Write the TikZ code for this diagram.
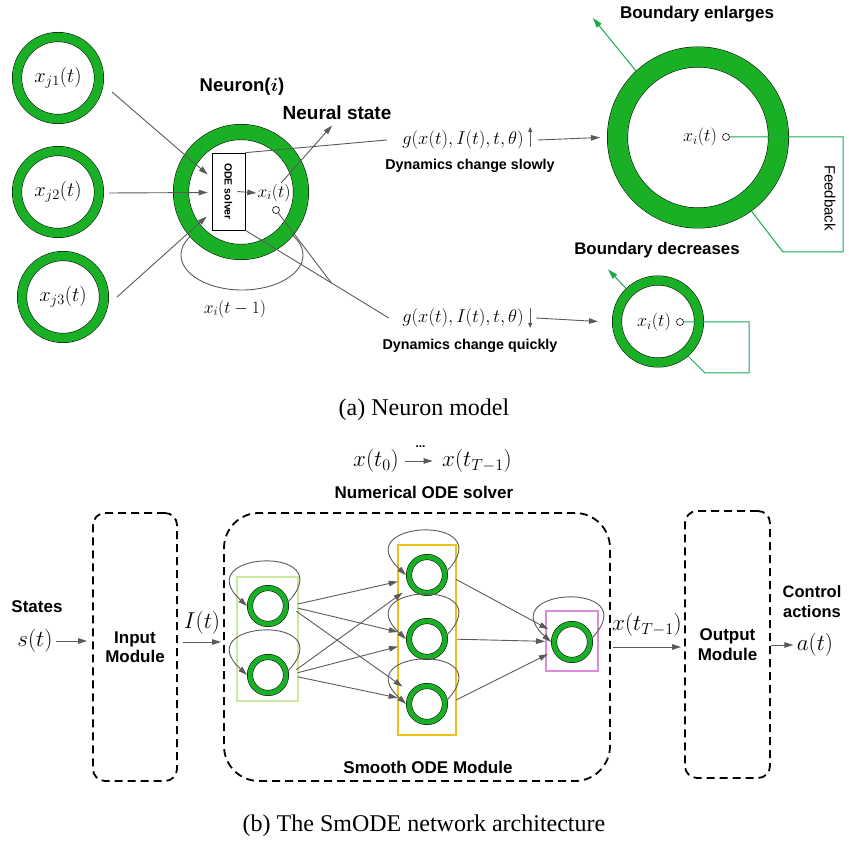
\RequirePackage{fix-cm}
\documentclass[tikz,border=0pt]{standalone}
\usepackage{amsmath}
\usepackage{fontspec}
\setmainfont{Liberation Serif}
\setsansfont{Liberation Sans}
\usetikzlibrary{arrows.meta, calc, positioning}

\definecolor{ringgreen}{RGB}{26,176,38}
\definecolor{fbgreen}{RGB}{24,170,80}
\definecolor{wiregray}{RGB}{90,90,90}
\definecolor{layerone}{RGB}{202,232,160}
\definecolor{layertwo}{RGB}{234,194,28}
\definecolor{layerthree}{RGB}{220,140,220}

\newcommand{\fsz}[2]{\fontsize{#1}{#2}\selectfont}

\begin{document}
\begin{tikzpicture}[x = 1pt, y = -1pt,
    wire/.style = { draw = wiregray, line width = 0.9pt },
    arr/.style = { wire, -{Triangle[length = 9pt, width = 5.5pt]} },
    small arr/.style = { wire, -{Triangle[length = 5pt, width = 4pt]} },
    fb/.style = { draw = fbgreen, line width = 1pt },
    fb arr/.style = { fb, -{Triangle[length = 10pt, width = 6pt]} },
    ring/.style = { circle, inner sep = 0pt, fill = white, draw = black, line width = 0.5pt,
                    double = ringgreen, double distance = #1, outer sep = 0.5*#1 + 0.5pt },
    dot/.style = { circle, draw = black, fill = white, line width = 0.6pt, inner sep = 0pt, minimum size = 7pt },
    lab/.style = { font = \sffamily\bfseries\fsz{17}{19.5}, align = center },
    module/.style = { lab, draw = black, line width = 1.8pt, dash pattern = on 8pt off 5pt },
    mth/.style = { font = \fsz{#1}{#1} }
  ]
  \useasboundingbox (0,0) rectangle (849,842);

  \draw[wire] (242,255) ellipse [x radius = 61pt, y radius = 35pt];

  \node[ring = 9pt, minimum size = 82pt, mth = 20.5] (j1) at (58,78) {$x_{j1}(t)$};
  \node[ring = 9pt, minimum size = 82pt, mth = 20.5] (j2) at (58,192) {$x_{j2}(t)$};
  \node[ring = 9pt, minimum size = 82pt, mth = 20.5] (j3) at (63,297) {$x_{j3}(t)$};

  \node[ring = 15pt, minimum size = 120pt] (ni) at (241,192) {};
  \node[draw, fill = white, line width = 0.7pt, inner sep = 0pt, minimum width = 33pt, minimum height = 77pt] (ode) at (228.5,191.5) {};
  \node[rotate = -90, font = \sffamily\bfseries\fsz{10.5}{12}] at (ode) {ODE solver};
  \node[mth = 17.5, inner sep = 1pt] (xi) at (274,193) {$x_i(t)$};
  \node[dot] (xo) at (276,210) {};
  \node[mth = 17.5] (xprev) at (235,309) {$x_i(t-1)$};
  \node[lab, font = \sffamily\bfseries\fsz{18.5}{21}] (nlab) at (242,87) {Neuron($\boldsymbol{i}$)};
  \node[lab, font = \sffamily\bfseries\fsz{19}{22}] (nstate) at (337,113) {Neural state};

  \draw[arr] ([shift = {(54,14)}]j1.center) -- ([shift = {(-4,-17)}]ode.west);
  \draw[arr] ([shift = {(51,1)}]j2.center) -- ([shift = {(-4,1)}]ode.west);
  \draw[arr] ([shift = {(54,0)}]j3.center) -- ([shift = {(-5,25)}]ode.west);
  \draw[arr] ([xshift = -8pt]ode.east) -- (xi.west);
  \draw[arr] ([xshift = 7pt]xi.north) -- ([shift = {(-5,2)}]nstate.south);

  \node[mth = 18.5] (gup) at (463,140) {$g(x(t),I(t),t,\theta)$};
  \node[lab, font = \sffamily\bfseries\fsz{14.3}{16}] at (470,166) {Dynamics change slowly};
  \node[ring = 20pt, minimum size = 161pt] (big) at (698,137.5) {};
  \node[mth = 18] (xbig) at (700,137) {$x_i(t)$};
  \node[dot] (bo) at (726,137) {};
  \draw[wire] (ode.north east) -- ([xshift = -12pt]gup.west);
  \draw[small arr] ([shift = {(3,7)}]gup.east) -- ([shift = {(3,-13)}]gup.east);
  \draw[arr] ([xshift = 11pt]gup.east) -- ([xshift = -7pt]big.west);
  \draw[fb] (bo.east) -- (843,137) -- (843,252) -- (783,252) -- (big.-54);
  \draw[fb arr] (big.133) -- ++(-43,-53);
  \node[rotate = -90, font = \sffamily\fsz{15}{17}] at (830,198) {Feedback};
  \node[lab, font = \sffamily\bfseries\fsz{17}{19}] at (697,14) {Boundary enlarges};

  \node[mth = 18.5] (gdn) at (463,318) {$g(x(t),I(t),t,\theta)$};
  \node[lab, font = \sffamily\bfseries\fsz{14.3}{16}] at (470,346) {Dynamics change quickly};
  \node[ring = 9pt, minimum size = 82pt] (sr) at (658,321.5) {};
  \node[mth = 18] (xsr) at (654,322) {$x_i(t)$};
  \node[dot] (so) at (680,322) {};
  \draw[wire] (ode.south east) -- ([xshift = -10pt]gdn.west);
  \draw[wire] (xo.-53) -- ($(ode.south east)!0.6!([xshift = -10pt]gdn.west)$);
  \draw[small arr] ([shift = {(3,-10)}]gdn.east) -- ([shift = {(3,10)}]gdn.east);
  \draw[arr] ([xshift = 9pt]gdn.east) -- ([xshift = -14pt]sr.west);
  \draw[fb] (so.east) -- (749,322) -- (749,373) -- (705,373) -- (sr.-49);
  \draw[fb arr] (sr.134) -- ++(-18,-19);
  \node[lab, font = \sffamily\bfseries\fsz{16.8}{19}] at (657,250) {Boundary decreases};

  \node[font = \rmfamily\fsz{24}{27}] at (424,410) {(a) Neuron model};

  \node[mth = 23] (x0) at (376,461) {$x(t_0)$};
  \node[mth = 23] (xT) at (477,461) {$x(t_{T-1})$};
  \draw[arr, shorten <= 3pt, shorten >= 6pt] (x0) -- node[above = 10pt, font = \sffamily\bfseries\fsz{12}{14}] {...} (xT);
  \node[lab] at (424,492) {Numerical ODE solver};

  \node[module, rounded corners = 12pt, minimum width = 84pt, minimum height = 268pt] (inmod) at (135,647) {Input\\Module};
  \node[module, rounded corners = 35pt, minimum width = 386pt, minimum height = 268pt] (smooth) at (417,647) {};
  \node[lab] at (428,767) {Smooth ODE Module};
  \node[module, rounded corners = 12pt, minimum width = 85pt, minimum height = 267pt] (outmod) at (727.5,644.5) {Output\\Module};

  \node[lab] at (37,607) {States};
  \node[mth = 23] (st) at (35,641) {$s(t)$};
  \draw[arr, shorten >= 5pt] (st.east) -- (st.east -| inmod.west);
  \node[mth = 23] at (202,623) {$I(t)$};
  \draw[arr, shorten <= 5pt, shorten >= 2pt] ([yshift = 5pt]inmod.east) -- ([yshift = 5pt]smooth.west);
  \node[mth = 23] at (647,625) {$x(t_{T-1})$};
  \draw[arr, shorten <= 2pt, shorten >= 3pt] (smooth.east) -- (smooth.east -| outmod.west);
  \node[lab, font = \sffamily\bfseries\fsz{16.5}{20}] at (812,602) {Control\\actions};
  \node[mth = 23] (act) at (815,645) {$a(t)$};
  \draw[arr] (act.west -| outmod.east) -- (act.west);

  \node[draw = layerone, line width = 1.5pt, minimum width = 61pt, minimum height = 124pt] (lay1) at (267.5,639) {};
  \node[draw = layertwo, line width = 1.8pt, minimum width = 58pt, minimum height = 190pt] (lay2) at (427,640) {};
  \node[draw = layerthree, line width = 1.5pt, minimum width = 52pt, minimum height = 60pt] (lay3) at (572,641) {};

  \node[ring = 5pt, minimum size = 36pt] (n11) at (268,606) {};
  \node[ring = 5pt, minimum size = 36pt] (n12) at (268,675) {};
  \node[ring = 5pt, minimum size = 36pt] (n21) at (427,575) {};
  \node[ring = 5pt, minimum size = 36pt] (n22) at (427,639) {};
  \node[ring = 5pt, minimum size = 36pt] (n23) at (427,704) {};
  \node[ring = 5pt, minimum size = 36pt] (n31) at (572,642) {};

  \foreach \n in {n11, n12, n21, n22, n23, n31}
    \draw[arr] ([shift = {(20,-4)}]\n.center) .. controls +(55,-58) and +(-60,-55) .. ([shift = {(-21,0)}]\n.center);
  \foreach \a in {n11, n12}
    \foreach \b in {n21, n22, n23}
      \draw[arr, shorten <= 9pt, shorten >= 9pt] (\a.east) -- (\b);
  \foreach \b in {n21, n22, n23}
    \draw[arr, shorten <= 9pt, shorten >= 6pt] (\b.east) -- (n31);

  \node[font = \rmfamily\fsz{24}{27}] at (424,826) {(b) The SmODE network architecture};
\end{tikzpicture}
\end{document}
